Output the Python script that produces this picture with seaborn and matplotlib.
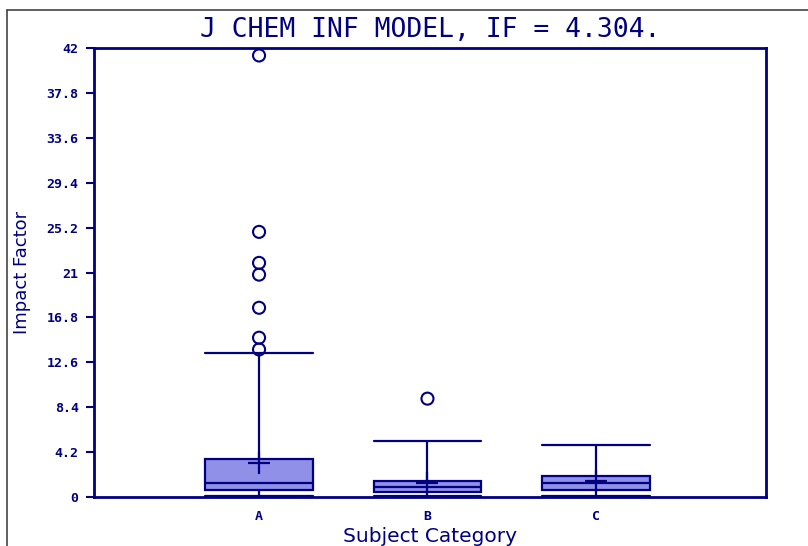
import numpy as np
import pandas as pd
import matplotlib
matplotlib.use("Agg")
import matplotlib.pyplot as plt
import seaborn as sns
from matplotlib.lines import Line2D

# ---- data ----
categories = ["A", "B", "C"]
whisker_low = [0.1, 0.1, 0.1]
q1 = [0.65, 0.47, 0.65]
median = [1.34, 0.96, 1.28]
q3 = [3.55, 1.50, 1.96]
whisker_high = [13.44, 5.2, 4.86]
means = [3.2, 1.34, 1.5]
outlier_cat = ["A", "A", "A", "A", "A", "A", "A", "B"]
outlier_val = [41.3, 24.8, 21.9, 20.8, 17.7, 14.9, 13.8, 9.2]
ytick_vals = [0, 4.2, 8.4, 12.6, 16.8, 21, 25.2, 29.4, 33.6, 37.8, 42]
ytick_labels = ["0", "4.2", "8.4", "12.6", "16.8", "21", "25.2", "29.4", "33.6", "37.8", "42"]
title = "J CHEM INF MODEL, IF = 4.304."
xlabel = "Subject Category"
ylabel = "Impact Factor"

navy = "#000080"
fill = "#9090E8"

sns.set_style("white")
plt.rcParams["font.family"] = ["DejaVu Sans"]

# five-number summaries in long format
rows = []
for c, lo, a, m, b, hi in zip(categories, whisker_low, q1, median, q3, whisker_high):
    for v in (lo, a, m, b, hi):
        rows.append({"cat": c, "val": v})
box_df = pd.DataFrame(rows)
mean_df = pd.DataFrame({"cat": categories, "val": means})
out_df = pd.DataFrame({"cat": outlier_cat, "val": outlier_val})

fig = plt.figure(figsize=(8.08, 5.46), dpi=100)
ax = fig.add_axes([94 / 808, 1 - 497 / 546, (766 - 94) / 808, (497 - 48) / 546])

sns.boxplot(data=box_df, x="cat", y="val", order=categories, width=0.64,
            color=fill, linecolor=navy, linewidth=1.6, whis=(0, 100),
            showfliers=False, saturation=1, ax=ax)

# widen caps to box width
for ln in ax.lines:
    xd = np.asarray(ln.get_xdata(), dtype=float)
    yd = np.asarray(ln.get_ydata(), dtype=float)
    if len(xd) == 2 and yd[0] == yd[1] and abs(xd[1] - xd[0] - 0.32) < 1e-6:
        c = xd.mean()
        ln.set_xdata([c - 0.32, c + 0.32])

sns.scatterplot(data=mean_df, x="cat", y="val", marker="+", s=240,
                color=navy, linewidth=1.6, ax=ax, zorder=5)
sns.scatterplot(data=out_df, x="cat", y="val", marker="o", s=75,
                color=navy, facecolor="none", edgecolor=navy, linewidth=1.5,
                ax=ax, zorder=5)

ax.set_xlim(-0.98, 3.01)
ax.set_ylim(0, 42)
ax.set_yticks(ytick_vals)
ax.set_yticklabels(ytick_labels, fontfamily="DejaVu Sans Mono",
                   fontweight="bold", fontsize=9.5, color=navy)
ax.set_xticks(range(len(categories)))
ax.set_xticklabels(categories, fontfamily="DejaVu Sans Mono",
                   fontweight="bold", fontsize=9.5, color=navy)
ax.tick_params(axis="y", direction="out", length=6, width=1.5, color=navy,
               pad=5, left=True)
ax.tick_params(axis="x", length=0, pad=9)

for sp in ax.spines.values():
    sp.set_visible(True)
    sp.set_color(navy)
    sp.set_linewidth(2)

ax.set_xlabel(xlabel, fontsize=14.5, color=navy, va="center")
ax.xaxis.set_label_coords(0.5, -0.088)
ax.set_ylabel(ylabel, fontsize=13, color=navy, va="center")
ax.yaxis.set_label_coords(-0.107, 0.5)

ax.set_title(title, fontfamily="DejaVu Sans Mono", fontsize=19,
             color=navy, pad=8)

# outer frame lines
fig.add_artist(Line2D([7 / 808, 7 / 808], [0, 1 - 10 / 546],
                      transform=fig.transFigure, color="#444444", lw=1.2))
fig.add_artist(Line2D([7 / 808, 1], [1 - 10 / 546, 1 - 10 / 546],
                      transform=fig.transFigure, color="#444444", lw=1.2))

fig.savefig("out.png", dpi=100)
